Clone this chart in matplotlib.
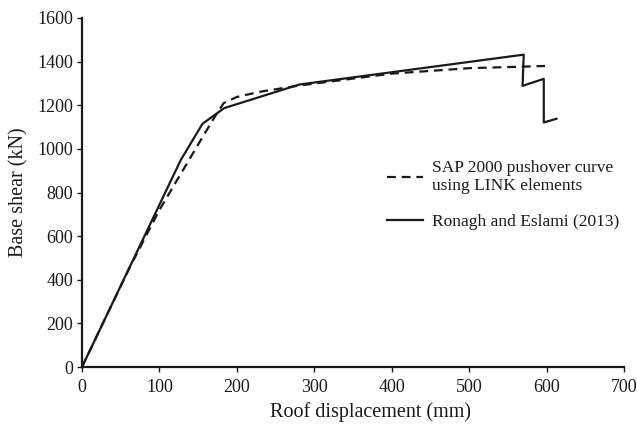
import matplotlib
matplotlib.use("Agg")
import matplotlib.pyplot as plt

# Data
sap_x = [0, 60, 100, 130, 155, 172, 183, 200, 230, 280, 400, 500, 598]
sap_y = [0, 445, 720, 900, 1050, 1150, 1210, 1238, 1262, 1290, 1345, 1370, 1380]

ron_x = [0, 127.7, 155.6, 183.7, 280.7, 570.5, 569, 596.4, 596.4, 612.8]
ron_y = [0, 950, 1115, 1187, 1295, 1432, 1289, 1321, 1121, 1138]

x_ticks = [0, 100, 200, 300, 400, 500, 600, 700]
y_ticks = [0, 200, 400, 600, 800, 1000, 1200, 1400, 1600]

plt.rcParams['font.family'] = ['Liberation Serif', 'DejaVu Serif']
tick_fs = 13
label_fs = 14.5
leg_fs = 12.5
ink = '#1a1a1a'

fig = plt.figure(figsize=(6.37, 4.24), dpi=100)
ax = fig.add_axes([82/637, 57/424, (624-82)/637, (367-18)/424])

ax.plot(sap_x, sap_y, color=ink, lw=1.6, dashes=(4, 2.6),
        label='SAP 2000 pushover curve\nusing LINK elements')
ax.plot(ron_x, ron_y, color=ink, lw=1.6, label='Ronagh and Eslami (2013)')

ax.set_xlim(0, 700)
ax.set_ylim(0, 1600)
ax.set_xticks(x_ticks)
ax.set_yticks(y_ticks)
ax.tick_params(direction='out', length=3.5, width=1.0, labelsize=tick_fs, color=ink,
               labelcolor=ink)
ax.tick_params(axis='x', pad=5)
ax.tick_params(axis='y', pad=3)
for s in ['top', 'right']:
    ax.spines[s].set_visible(False)
for s in ['left', 'bottom']:
    ax.spines[s].set_linewidth(1.6)
    ax.spines[s].set_color(ink)

ax.set_xlabel('Roof displacement (mm)', fontsize=label_fs, color=ink, labelpad=5)
ax.xaxis.set_label_coords((371-82)/542, -(412-367)/349, transform=ax.transAxes)
ax.xaxis.label.set_va('center')
ax.set_ylabel('Base shear (kN)', fontsize=label_fs, color=ink)
ax.yaxis.set_label_coords(-(82-18.5)/542, (367-192)/349, transform=ax.transAxes)
ax.yaxis.label.set_va('center')

leg = ax.legend(loc='upper left', bbox_to_anchor=((387-82)/542, (367-160)/349),
                frameon=False, fontsize=leg_fs, handlelength=2.1, handletextpad=0.5,
                labelspacing=1.1, borderaxespad=0, borderpad=0)
for t in leg.get_texts():
    t.set_color(ink)

fig.savefig('out.png', dpi=100)
